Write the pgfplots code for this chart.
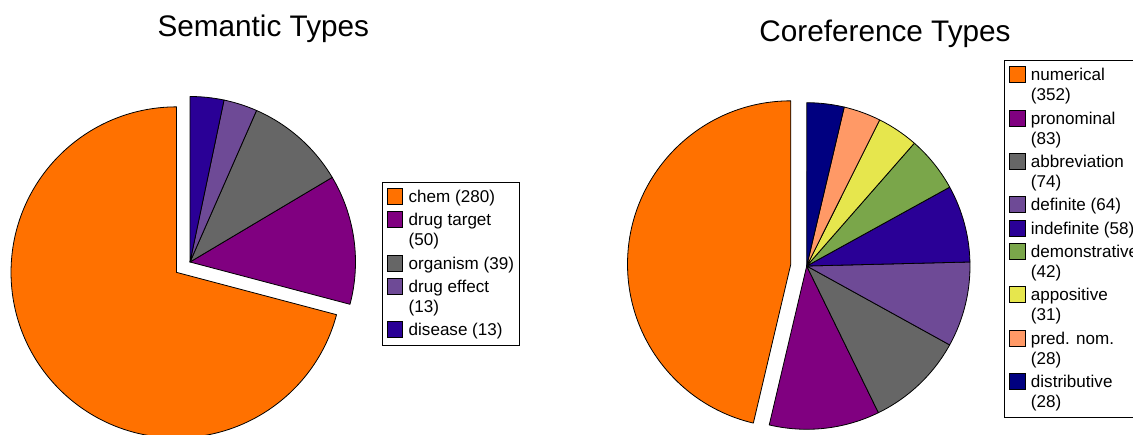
\documentclass[border=0pt]{standalone}
\usepackage{pgfplots}
\usepackage{pgfplotstable}
\pgfplotsset{compat=1.18}
\usepackage{fontspec}
\setmainfont{Liberation Sans}

\definecolor{cOrange}{RGB}{255,113,0}
\definecolor{cPurple}{RGB}{128,0,128}
\definecolor{cGrey}{RGB}{102,102,102}
\definecolor{cLav}{RGB}{110,74,150}
\definecolor{cIndigo}{RGB}{42,0,150}
\definecolor{cGreen}{RGB}{122,166,74}
\definecolor{cYellow}{RGB}{230,230,77}
\definecolor{cSalmon}{RGB}{255,153,102}
\definecolor{cNavy}{RGB}{0,0,128}

\pgfplotstableread{
name value color explode
chem 280 cOrange 17
drugtarget 50 cPurple 0
organism 39 cGrey 0
drugeffect 13 cLav 0
disease 13 cIndigo 0
}\semtable

\pgfplotstableread{
name value color explode
numerical 352 cOrange 16
pronominal 83 cPurple 0
abbreviation 74 cGrey 0
definite 64 cLav 0
indefinite 58 cIndigo 0
demonstrative 42 cGreen 0
appositive 31 cYellow 0
prednom 28 cSalmon 0
distributive 28 cNavy 0
}\cortable

% pie drawn inside the axis, from the table values; #1 table, #2 cx, #3 cy, #4 radius (axis units)
\newcommand{\piechart}[4]{%
  \pgfplotstablegetrowsof{#1}%
  \pgfmathtruncatemacro\lastrow{\pgfplotsretval-1}%
  \def\tot{0}%
  \pgfplotsforeachungrouped \i in {0,...,\lastrow}{%
    \pgfplotstablegetelem{\i}{value}\of{#1}%
    \pgfmathsetmacro\tot{\tot+\pgfplotsretval}%
  }%
  \def\angA{90}%
  \pgfplotsforeachungrouped \i in {0,...,\lastrow}{%
    \pgfplotstablegetelem{\i}{value}\of{#1}\let\val\pgfplotsretval
    \pgfplotstablegetelem{\i}{color}\of{#1}\let\col\pgfplotsretval
    \pgfplotstablegetelem{\i}{explode}\of{#1}\let\ex\pgfplotsretval
    \pgfmathsetmacro\frac{\val/\tot}%
    \pgfmathsetmacro\angB{\angA+\frac*360}%
    \pgfmathsetmacro\angM{(\angA+\angB)/2}%
    \pgfmathsetmacro\mx{#2+\ex*cos(\angM)}%
    \pgfmathsetmacro\my{#3+\ex*sin(\angM)}%
    \pgfmathsetmacro\sx{\mx+#4*cos(\angA)}%
    \pgfmathsetmacro\sy{\my+#4*sin(\angA)}%
    \pgfmathsetmacro\rpt{#4*0.75}%
    \edef\cmd{\noexpand\filldraw[fill=\col,draw=black,line width=0.6pt,line join=round]
      (axis cs:\mx,\my) -- (axis cs:\sx,\sy)
      arc[start angle=\angA,end angle=\angB,radius=\rpt pt] -- cycle;}%
    \cmd
    \let\angA\angB
  }%
}

\newcommand\ls{\rule[-3pt]{0pt}{13.8pt}}
\newcommand\one[1]{\ls #1}
\newcommand\two[2]{\vtop{\baselineskip=15pt\hbox{\ls #1}\hbox{\ls #2}}}

\pgfplotsset{
  pieaxis/.style={
    at={(0pt,0pt)}, anchor=south west,
    scale only axis, width=849.75pt, height=326.25pt,
    xmin=0, xmax=1133, ymin=0, ymax=435,
    hide axis, clip=false,
    legend image code/.code={\draw[##1,draw=black,line width=0.5pt] (0pt,-1.5pt) rectangle (11.5pt,10.5pt);},
    legend style={draw=black, line width=0.6pt, fill=white,
      inner xsep=3.75pt, inner ysep=4.5pt, row sep=3.7pt, column sep=4.2pt,
      cells={anchor=base west},
      nodes={inner sep=0pt, text depth=, text height=, anchor=base west,
             font=\fontsize{12.8}{15}\selectfont}},
  },
}

\begin{document}
\begin{tikzpicture}
\begin{axis}[pieaxis,
  legend style={at={(0.3369,0.5823)}, anchor=north west}]
  \piechart{\semtable}{190}{173}{165.5}
  \addlegendimage{fill=cOrange}\addlegendentry{\one{chem (280)}}
  \addlegendimage{fill=cPurple}\addlegendentry{\two{drug target}{(50)}}
  \addlegendimage{fill=cGrey}\addlegendentry{\one{organism (39)}\hspace{1.5pt}}
  \addlegendimage{fill=cLav}\addlegendentry{\two{drug effect}{(13)}}
  \addlegendimage{fill=cIndigo}\addlegendentry{\one{disease (13)}}
  \node[anchor=base, font=\fontsize{22.3}{27}\selectfont] at (axis cs:263.3,398.3) {Semantic Types};
\end{axis}
\begin{axis}[pieaxis,
  legend style={at={(0.8861,0.8621)}, anchor=north west}]
  \piechart{\cortable}{806.7}{169}{163.3}
  \addlegendimage{fill=cOrange}\addlegendentry{\two{numerical}{(352)}}
  \addlegendimage{fill=cPurple}\addlegendentry{\two{pronominal}{(83)}}
  \addlegendimage{fill=cGrey}\addlegendentry{\two{abbreviation}{(74)}}
  \addlegendimage{fill=cLav}\addlegendentry{\one{definite (64)}}
  \addlegendimage{fill=cIndigo}\addlegendentry{\one{indefinite (58)}}
  \addlegendimage{fill=cGreen}\addlegendentry{\two{demonstrative}{(42)}}
  \addlegendimage{fill=cYellow}\addlegendentry{\two{appositive}{(31)}}
  \addlegendimage{fill=cSalmon}\addlegendentry{\two{pred. nom.}{(28)}}
  \addlegendimage{fill=cNavy}\addlegendentry{\two{distributive}{(28)}}
  \node[anchor=base, font=\fontsize{22.3}{27}\selectfont] at (axis cs:885,393.3) {Coreference Types};
\end{axis}
\pgfresetboundingbox
\path[use as bounding box] (0pt,0pt) rectangle (849.75pt,326.25pt);
\end{tikzpicture}
\end{document}
